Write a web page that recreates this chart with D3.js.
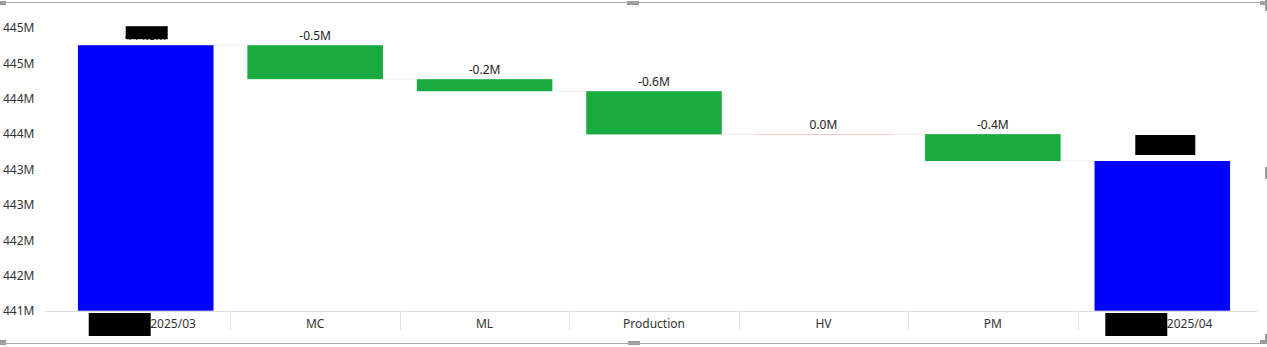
<!DOCTYPE html>
<html>
<head>
<meta charset="utf-8">
<script src="https://cdn.jsdelivr.net/npm/d3@7"></script>
<style>
  body { margin: 0; background: #fff; overflow: hidden; }
  text { font-family: "Segoe UI", "Noto Sans", sans-serif; }
</style>
</head>
<body>
<svg id="chart" width="1267" height="347"></svg>
<script>
// data (values in millions)
const categories = ["2025/03", "MC", "ML", "Production", "HV", "PM", "2025/04"];
const startTotal = 444.75;
const deltas = [-0.48, -0.17, -0.61, 0.004, -0.38];
const yTicks = [441, 441.5, 442, 442.5, 443, 443.5, 444, 444.5, 445];

const svg = d3.select("#chart");

// build the waterfall steps
let steps = [];
let run = startTotal;
steps.push({ cat: categories[0], from: yTicks[0], to: startTotal, kind: "total", value: startTotal });
deltas.forEach(function (d, i) {
    steps.push({ cat: categories[i + 1], from: run, to: run + d, kind: d < 0 ? "down" : "up", value: d });
    run += d;
});
steps.push({ cat: categories[categories.length - 1], from: yTicks[0], to: run, kind: "total", value: run });

var x = d3.scaleBand()
    .domain(categories)
    .range([61, 1247]);

var y = d3.scaleLinear()
    .domain([441, 445])
    .range([310.7, 27.5]);

const colors = { total: "#0000ff", down: "#1aab40", up: "#e8312f" };
const barW = x.bandwidth() * 0.8;
const barX = function (d) { return x(d.cat) + x.bandwidth() * 0.1; };
const topV = function (d) { return Math.max(d.from, d.to); };
const botV = function (d) { return Math.min(d.from, d.to); };
// plain hyphen instead of d3's unicode minus
const f1 = function (v) { return d3.format(".1f")(v).replace("\u2212", "-"); };

// y axis labels
var yAxis = svg.append("g")
    .call(d3.axisLeft(y).tickValues(yTicks).tickSize(0)
        .tickFormat(function (d) { return d3.format(".0f")(d) + "M"; }));
yAxis.select(".domain").remove();
yAxis.selectAll("text")
    .attr("x", 3)
    .attr("dy", "0.35em")
    .attr("text-anchor", "start")
    .style("font-size", "12px")
    .style("font-family", "'Segoe UI', 'Noto Sans', sans-serif")
    .attr("fill", "#333");

// category axis base line and separators
svg.append("line")
    .attr("x1", 45).attr("x2", 1257)
    .attr("y1", 311.5).attr("y2", 311.5)
    .attr("stroke", "#dcdcdc");

svg.append("g")
    .selectAll("line")
    .data(categories.slice(1))
    .enter()
    .append("line")
    .attr("x1", function (d) { return Math.round(x(d)) + 0.5; })
    .attr("x2", function (d) { return Math.round(x(d)) + 0.5; })
    .attr("y1", 311).attr("y2", 330)
    .attr("stroke", "#e3e3e3");

// connectors between bars
svg.append("g")
    .selectAll("line")
    .data(steps.slice(0, -1))
    .enter()
    .append("line")
    .attr("x1", function (d) { return barX(d) + barW; })
    .attr("x2", function (d, i) { return barX(steps[i + 1]); })
    .attr("y1", function (d) { return y(d.to); })
    .attr("y2", function (d) { return y(d.to); })
    .attr("stroke", "#efefef");

// bars
svg.append("g")
    .selectAll("rect")
    .data(steps)
    .enter()
    .append("rect")
    .attr("x", barX)
    .attr("width", barW)
    .attr("y", function (d) { return y(topV(d)); })
    .attr("height", function (d) { return y(botV(d)) - y(topV(d)); })
    .attr("fill", function (d) { return colors[d.kind]; });

// value labels
const fmt = function (d) {
    if (d.kind === "total") return f1(d.value) + "M";
    return (Math.abs(d.value) < 0.05 ? "0.0" : f1(d.value)) + "M";
};
svg.append("g")
    .selectAll("text")
    .data(steps)
    .enter()
    .append("text")
    .attr("x", function (d) { return barX(d) + barW / 2; })
    .attr("y", function (d, i) { return y(topV(d)) - (i === steps.length - 1 ? 8 : 5); })
    .attr("text-anchor", "middle")
    .style("font-size", "12px")
    .attr("fill", "#222")
    .text(fmt);

// category labels (first and last carry a masked prefix)
var catG = svg.append("g")
    .selectAll("g")
    .data(categories)
    .enter()
    .append("g")
    .attr("transform", function (d) { return "translate(" + (x(d) + x.bandwidth() / 2) + ",0)"; });

catG.append("text")
    .attr("x", function (d, i) { return (i === 0 || i === categories.length - 1) ? 4.5 : 0; })
    .attr("y", 327.5)
    .attr("text-anchor", function (d, i) { return (i === 0 || i === categories.length - 1) ? "start" : "middle"; })
    .style("font-size", "12px")
    .attr("fill", "#333")
    .text(function (d) { return d; });

catG.filter(function (d, i) { return i === 0 || i === categories.length - 1; })
    .append("rect")
    .attr("x", -57).attr("y", 313)
    .attr("width", 62).attr("height", 23)
    .attr("fill", "#000");

// masks over the two total labels
svg.append("rect")
    .attr("x", barX(steps[0]) + barW / 2 - 20).attr("y", y(steps[0].to) - 19)
    .attr("width", 42).attr("height", 13).attr("fill", "#000");
const last = steps[steps.length - 1];
svg.append("rect")
    .attr("x", barX(last) + barW / 2 - 27).attr("y", y(last.to) - 26)
    .attr("width", 60).attr("height", 20).attr("fill", "#000");

// visual frame with resize handles
const frame = svg.append("g").attr("fill", "#9a9a9a");
svg.append("line").attr("x1", 0).attr("x2", 1266).attr("y1", 2.5).attr("y2", 2.5).attr("stroke", "#a8a8a8");
svg.append("line").attr("x1", 0).attr("x2", 1262).attr("y1", 343.5).attr("y2", 343.5).attr("stroke", "#a8a8a8");
[[0, 1, 6, 4], [627, 1, 12, 4], [1260, 1, 7, 4], [1265, 0, 2, 11], [1265, 167, 2, 12],
 [1260, 340, 7, 4], [1265, 334, 2, 10], [628, 341, 12, 4], [0, 340, 6, 5]].forEach(function (r) {
    frame.append("rect").attr("x", r[0]).attr("y", r[1]).attr("width", r[2]).attr("height", r[3]);
});
</script>
</body>
</html>
